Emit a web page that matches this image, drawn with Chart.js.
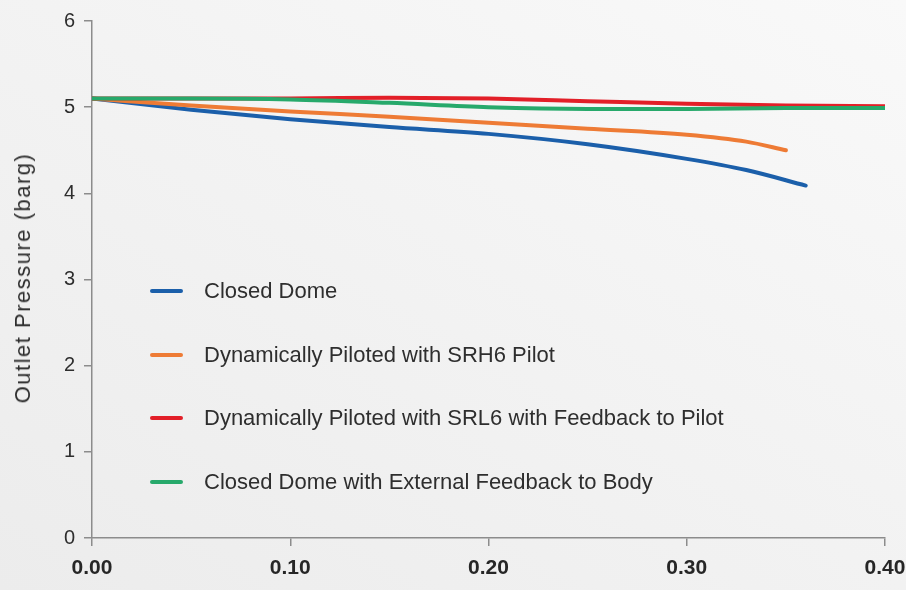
<!DOCTYPE html>
<html>
<head>
<meta charset="utf-8">
<script src="https://cdn.jsdelivr.net/npm/chart.js@4/dist/chart.umd.min.js"></script>
<style>
  html, body { margin: 0; padding: 0; }
  body {
    width: 906px; height: 590px; overflow: hidden;
    background: linear-gradient(30deg, #ececec 0%, #f3f3f3 55%, #f9f9f9 100%);
    font-family: "Liberation Sans", Arial, sans-serif;
  }
  #wrap { position: relative; width: 906px; height: 590px; }
  #legend { position: absolute; left: 150px; top: 276px; }
  .item { position: absolute; left: 0; height: 30px; display: flex; align-items: center; white-space: nowrap; }
  .swatch { width: 33px; height: 4px; border-radius: 2px; margin-right: 21px; }
  .label { font-size: 22px; color: #2e2e2e; }
  #ytitle {
    position: absolute; left: 23px; top: 278px;
    transform: translate(-50%, -50%) rotate(-90deg);
    white-space: nowrap; font-size: 22px; letter-spacing: 1.5px; color: #2e2e2e;
  }
</style>
</head>
<body>
<div id="wrap">
  <canvas id="chart" width="906" height="590"></canvas>
  <div id="ytitle">Outlet Pressure (barg)</div>
  <div id="legend"></div>
</div>
<script>
  const seriesNames = [
    'Closed Dome',
    'Dynamically Piloted with SRH6 Pilot',
    'Dynamically Piloted with SRL6 with Feedback to Pilot',
    'Closed Dome with External Feedback to Body'
  ];
  const seriesColors = ['#1b5faa', '#ee7b35', '#e21f28', '#27a96b'];

  const closedDomeX = [0, 0.05, 0.10, 0.15, 0.20, 0.25, 0.30, 0.33, 0.36];
  const closedDomeY = [5.10, 4.97, 4.86, 4.77, 4.69, 4.57, 4.40, 4.27, 4.09];

  const srh6X = [0, 0.05, 0.10, 0.15, 0.20, 0.25, 0.30, 0.33, 0.35];
  const srh6Y = [5.10, 5.02, 4.95, 4.89, 4.82, 4.75, 4.68, 4.60, 4.50];

  const srl6X = [0, 0.05, 0.10, 0.15, 0.20, 0.25, 0.30, 0.35, 0.40];
  const srl6Y = [5.10, 5.10, 5.10, 5.11, 5.10, 5.07, 5.04, 5.02, 5.01];

  const externalX = [0, 0.05, 0.10, 0.15, 0.20, 0.25, 0.30, 0.35, 0.40];
  const externalY = [5.10, 5.10, 5.09, 5.05, 5.00, 4.98, 4.98, 4.99, 4.99];

  const xTicks = [0, 0.10, 0.20, 0.30, 0.40];
  const yTicks = [0, 1, 2, 3, 4, 5, 6];

  const toPoints = (xs, ys) => xs.map((x, i) => ({ x: x, y: ys[i] }));
  const allX = [closedDomeX, srh6X, srl6X, externalX];
  const allY = [closedDomeY, srh6Y, srl6Y, externalY];

  const datasets = seriesNames.map((name, i) => ({
    label: name,
    data: toPoints(allX[i], allY[i]),
    borderColor: seriesColors[i],
    backgroundColor: seriesColors[i],
    borderWidth: 4,
    pointRadius: 0,
    cubicInterpolationMode: 'monotone',
    borderCapStyle: 'round',
    order: seriesNames.length - i
  }));

  new Chart(document.getElementById('chart'), {
    type: 'line',
    data: { datasets: datasets },
    options: {
      responsive: false,
      animation: false,
      layout: { padding: { top: 19, right: 21, left: 0, bottom: 0 } },
      plugins: { legend: { display: false }, tooltip: { enabled: false } },
      scales: {
        x: {
          type: 'linear',
          min: 0, max: 0.4,
          afterBuildTicks: axis => { axis.ticks = xTicks.map(v => ({ value: v })); },
          afterFit: axis => {
            axis.height = 52;
            // let the last label run into the right margin like the original
            axis.paddingRight = 0;
            axis.paddingLeft = 0;
          },
          border: { color: '#8c8c8c', width: 1.5 },
          grid: { drawOnChartArea: false, drawTicks: true, tickLength: 8, color: '#8c8c8c', lineWidth: 1.5 },
          ticks: {
            color: '#262626',
            padding: 10,
            font: { family: '"Liberation Sans", Arial, sans-serif', size: 21, weight: 'bold' },
            callback: v => Number(v).toFixed(2)
          }
        },
        y: {
          min: 0, max: 6,
          afterBuildTicks: axis => { axis.ticks = yTicks.map(v => ({ value: v })); },
          afterFit: axis => { axis.width = 92; },
          border: { color: '#8c8c8c', width: 1.5 },
          grid: { drawOnChartArea: false, drawTicks: true, tickLength: 8, color: '#8c8c8c', lineWidth: 1.5 },
          ticks: {
            color: '#2e2e2e',
            padding: 9,
            font: { family: '"Liberation Sans", Arial, sans-serif', size: 20 }
          }
        }
      }
    }
  });

  const legend = document.getElementById('legend');
  const legendGap = 63.5;
  seriesNames.forEach((name, i) => {
    const item = document.createElement('div');
    item.className = 'item';
    item.style.top = (i * legendGap) + 'px';
    item.innerHTML = `<span class="swatch" style="background:${seriesColors[i]}"></span><span class="label">${name}</span>`;
    legend.appendChild(item);
  });
</script>
</body>
</html>
